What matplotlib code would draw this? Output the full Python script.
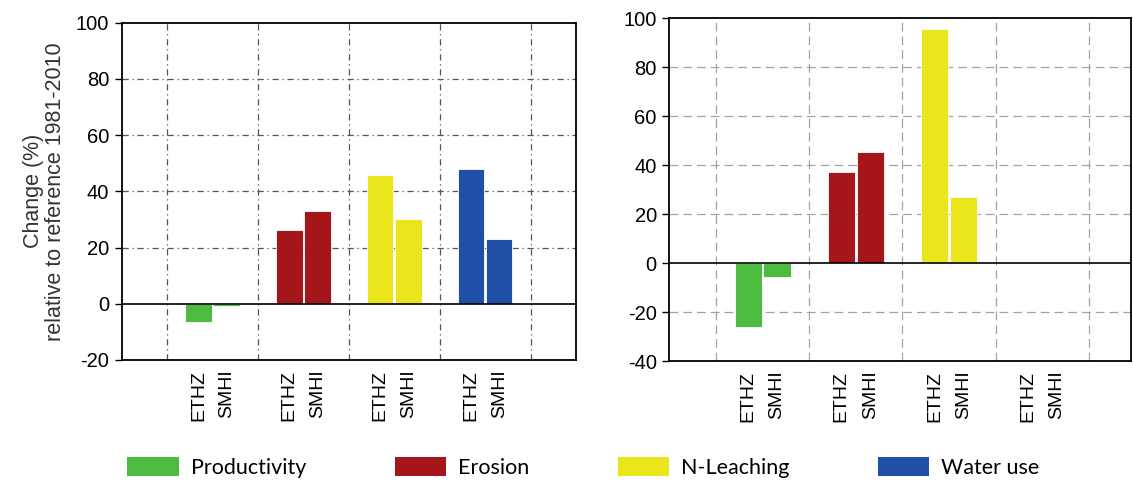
import numpy as np
import matplotlib
matplotlib.use("Agg")
import matplotlib.pyplot as plt
from matplotlib.patches import Patch

# values (% change relative to 1981-2010)
categories = ['Productivity', 'Erosion', 'N-Leaching', 'Water use']
models = ['ETHZ', 'SMHI']
colors = ['#4dbb3f', '#a5161b', '#ebe51c', '#1f4fa6']

left_ethz = [-6.6, 26.2, 45.9, 48.0]
left_smhi = [-0.8, 33.1, 30.0, 23.2]
right_ethz = [-26.1, 37.4, 95.6, np.nan]
right_smhi = [-5.7, 45.5, 27.1, np.nan]

left_yticks = [-20, 0, 20, 40, 60, 80, 100]
right_yticks = [-40, -20, 0, 20, 40, 60, 80, 100]

plt.rcParams['font.family'] = ['Liberation Sans', 'DejaVu Sans']
plt.rcParams['axes.unicode_minus'] = False

fig = plt.figure(figsize=(11.33, 4.84), dpi=100)
ax1 = fig.add_axes([0.1074, 0.2562, 0.4010, 0.6969])
ax2 = fig.add_axes([0.5907, 0.2541, 0.4075, 0.7081])

group_x = np.arange(len(categories)) + 1.5
off = 0.155
w = 0.29


def draw_panel(ax, ethz, smhi, yticks, grid_style, grid_color, xmax):
    ax.bar(group_x - off, ethz, width=w, color=colors, edgecolor='white', linewidth=0.6, zorder=3)
    ax.bar(group_x + off, smhi, width=w, color=colors, edgecolor='white', linewidth=0.6, zorder=3)
    ax.set_xlim(0.5, xmax)
    ax.set_ylim(yticks[0], yticks[-1])
    ax.set_yticks(yticks)
    # grid lines between groups and at the y ticks
    for gx in range(1, 6):
        ax.axvline(gx, color=grid_color, lw=0.9, dashes=grid_style, zorder=1)
    for gy in yticks[1:-1]:
        if gy != 0:
            ax.axhline(gy, color=grid_color, lw=0.9, dashes=grid_style, zorder=1)
    ax.axhline(0, color='black', lw=1.2, zorder=4)
    xt = np.concatenate([group_x - off, group_x + off])
    ax.set_xticks(np.sort(xt))
    ax.set_xticklabels(models * len(categories), rotation=90, fontsize=14)
    ax.tick_params(axis='x', length=0, pad=7)
    ax.tick_params(axis='y', length=5, width=1, pad=4, labelsize=14.5, colors='black')
    for s in ax.spines.values():
        s.set_linewidth(1.3)
        s.set_color('black')


draw_panel(ax1, left_ethz, left_smhi, left_yticks, (5, 3, 1, 3), '#555555', 5.5)
draw_panel(ax2, right_ethz, right_smhi, right_yticks, (7, 4), '#a8a29c', 5.45)

ax1.set_ylabel('Change (%)\nrelative to reference 1981-2010', fontsize=15.5,
               color='#333333', labelpad=7, linespacing=1.05)

handles = [Patch(facecolor=c, edgecolor='none') for c in colors]
fig.legend(handles, categories, loc='center', bbox_to_anchor=(0.515, 0.035),
           ncol=4, frameon=False, borderpad=0, handlelength=2.4, handleheight=1.0,
           handletextpad=0.55, columnspacing=4.1,
           prop={'family': ['Lato', 'DejaVu Sans'], 'size': 15.5})

fig.savefig('out.png', dpi=100, facecolor='white')
